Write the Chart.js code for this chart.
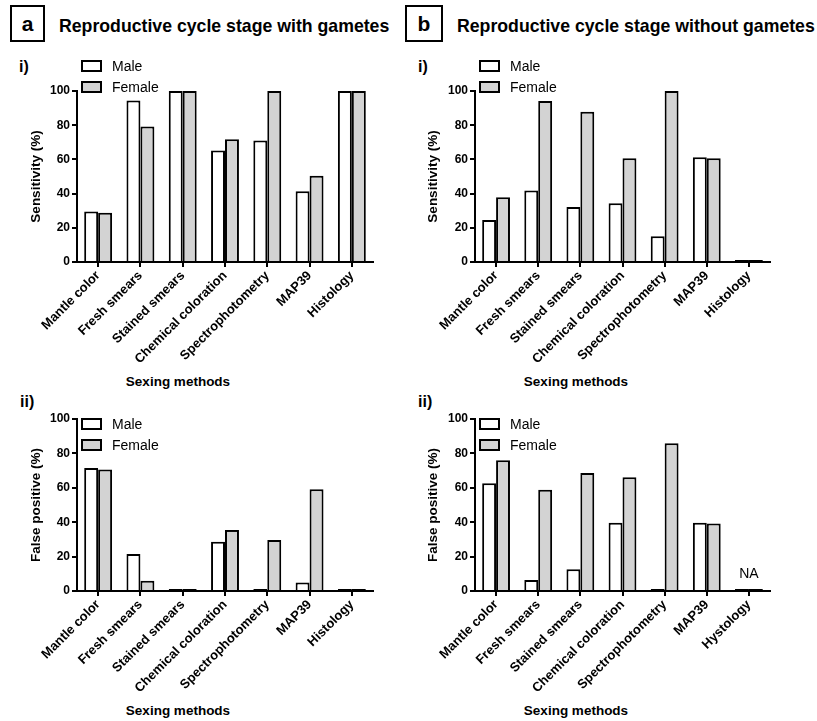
<!DOCTYPE html>
<html>
<head>
<meta charset="utf-8">
<script src="https://cdn.jsdelivr.net/npm/chart.js@4.4.1/dist/chart.umd.min.js"></script>
<style>
  body { margin: 0; background: #fff; font-family: Arial, "Liberation Sans", sans-serif; }
  #page { position: relative; width: 817px; height: 721px; overflow: hidden; }
  canvas { position: absolute; }
  .txt { position: absolute; color: #000; white-space: nowrap; line-height: 1; }
  .letterbox { position: absolute; border: 2px solid #000; box-sizing: border-box;
    font-weight: bold; font-size: 21px; display: flex; align-items: center; justify-content: center; }
  .title { font-weight: bold; font-size: 17.7px; }
  .sub { font-weight: bold; font-size: 16px; }
  .xt { font-weight: bold; font-size: 13.5px; transform: translateX(-50%); }
  .lbox { position: absolute; width: 21px; height: 12px; border: 2px solid #000; box-sizing: border-box; }
  .ltxt { font-size: 14px; }
</style>
</head>
<body>
<div id="page">
  <div class="letterbox" style="left:10px;top:5px;width:35px;height:37px;">a</div>
  <div class="txt title" style="left:59px;top:18px;">Reproductive cycle stage with gametes</div>
  <div class="letterbox" style="left:405px;top:5px;width:38px;height:37px;">b</div>
  <div class="txt title" style="left:457px;top:18px;">Reproductive cycle stage without gametes</div>

  <div class="txt sub" style="left:19px;top:59px;">i)</div>
  <div class="txt sub" style="left:418px;top:59px;">i)</div>
  <div class="txt sub" style="left:20px;top:394px;">ii)</div>
  <div class="txt sub" style="left:418px;top:394px;">ii)</div>

  <div class="txt xt" style="left:178px;top:375px;">Sexing methods</div>
  <div class="txt xt" style="left:576px;top:375px;">Sexing methods</div>
  <div class="txt xt" style="left:178px;top:704px;">Sexing methods</div>
  <div class="txt xt" style="left:576px;top:704px;">Sexing methods</div>

  <canvas id="ai" width="408" height="330" style="left:0;top:60px;"></canvas>
  <canvas id="bi" width="409" height="330" style="left:408px;top:60px;"></canvas>
  <canvas id="aii" width="408" height="330" style="left:0;top:390px;"></canvas>
  <canvas id="bii" width="409" height="330" style="left:408px;top:390px;"></canvas>
</div>

<script>
const seriesNames = ['Male', 'Female'];
const categoriesA = ['Mantle color', 'Fresh smears', 'Stained smears', 'Chemical coloration', 'Spectrophotometry', 'MAP39', 'Histology'];
const categoriesBii = ['Mantle color', 'Fresh smears', 'Stained smears', 'Chemical coloration', 'Spectrophotometry', 'MAP39', 'Hystology'];
const yTicks = [0, 20, 40, 60, 80, 100];

// sensitivity (%)
const sensMaleA   = [29.6, 94.4, 100, 65.2, 71.0, 41.4, 100];
const sensFemaleA = [28.8, 79.2, 100, 71.8, 100, 50.4, 100];
const sensMaleB   = [24.5, 41.8, 32.1, 34.4, 15.0, 61.3, 0];
const sensFemaleB = [37.9, 94.2, 87.9, 60.7, 100, 60.7, 0];

// false positive (%)
const fpMaleA   = [71.5, 21.5, 0, 28.7, 0, 5.0, 0];
const fpFemaleA = [70.7, 6.0, 0, 35.5, 29.7, 59.1, 0];
const fpMaleB   = [62.6, 6.4, 12.6, 39.7, 0, 39.7, 0];
const fpFemaleB = [76.0, 58.9, 68.6, 66.1, 85.9, 39.3, 0];

// text over a bar group (only Hystology in b-ii)
const naLabelsBii = ['', '', '', '', '', '', 'NA'];

const FONT = 'Arial, "Liberation Sans", sans-serif';
Chart.defaults.font.family = FONT;
Chart.defaults.color = '#000';

const naPlugin = {
  id: 'naText',
  afterDatasetsDraw(chart, args, opts) {
    if (!opts.labels) return;
    const ctx = chart.ctx;
    const x = chart.scales.x, y = chart.scales.y;
    ctx.save();
    ctx.font = '14px ' + FONT;
    ctx.fillStyle = '#000';
    ctx.textAlign = 'center';
    ctx.textBaseline = 'bottom';
    opts.labels.forEach((t, i) => {
      if (t) ctx.fillText(t, x.getPixelForValue(i), y.getPixelForValue(0) - 10);
    });
    ctx.restore();
  }
};

function addLegend(left, top) {
  const page = document.getElementById('page');
  const fills = ['#ffffff', '#d3d3d3'];
  seriesNames.forEach((name, i) => {
    const b = document.createElement('div');
    b.className = 'lbox';
    b.style.left = left + 'px';
    b.style.top = (top + i * 21) + 'px';
    b.style.background = fills[i];
    page.appendChild(b);
    const t = document.createElement('div');
    t.className = 'txt ltxt';
    t.style.left = (left + 31) + 'px';
    t.style.top = (top + i * 21 - 1) + 'px';
    t.textContent = name;
    page.appendChild(t);
  });
}

function makePanel(id, labels, male, female, yTitle, axisW, xH, padTop, padRight, titlePad, na) {
  new Chart(document.getElementById(id), {
    type: 'bar',
    data: {
      labels: labels,
      datasets: [
        { label: seriesNames[0], data: male, backgroundColor: '#ffffff' },
        { label: seriesNames[1], data: female, backgroundColor: '#d3d3d3' }
      ]
    },
    options: {
      responsive: false,
      animation: false,
      events: [],
      layout: { padding: { top: padTop, right: padRight, left: 0, bottom: 0 } },
      datasets: {
        bar: {
          borderColor: '#000',
          borderWidth: 2,
          // zero bars show as a flat black line, the others sit on the axis
          borderSkipped: c => (c.raw === 0 ? false : 'start'),
          categoryPercentage: 0.66,
          barPercentage: 1,
          minBarLength: 2
        }
      },
      plugins: {
        legend: { display: false },
        tooltip: { enabled: false },
        naText: { labels: na }
      },
      scales: {
        x: {
          afterFit: s => { s.height = xH; },
          grid: { display: true, drawOnChartArea: false, offset: false, tickLength: 5, color: '#000', lineWidth: 2 },
          border: { display: true, color: '#000', width: 2 },
          ticks: { autoSkip: false, minRotation: 45, maxRotation: 45, padding: 1,
                   font: { size: 13, weight: 'bold' } }
        },
        y: {
          min: 0, max: 100,
          afterFit: s => { s.width = axisW; },
          afterBuildTicks: s => { s.ticks = yTicks.map(v => ({ value: v })); },
          grid: { display: true, drawOnChartArea: false, tickLength: 5, color: '#000', lineWidth: 2 },
          border: { display: true, color: '#000', width: 2 },
          ticks: { padding: 2, font: { size: 12, weight: 'bold' } },
          title: { display: true, text: yTitle, padding: { top: titlePad, bottom: 0 },
                   font: { size: 13.5, weight: 'bold' } }
        }
      }
    },
    plugins: [naPlugin]
  });
}

makePanel('ai', categoriesA, sensMaleA, sensFemaleA, 'Sensitivity (%)', 77, 128, 31, 35, 28, null);
makePanel('bi', categoriesA, sensMaleB, sensFemaleB, 'Sensitivity (%)', 67, 128, 31, 47, 17, null);
makePanel('aii', categoriesA, fpMaleA, fpFemaleA, 'False positive (%)', 77, 129, 29, 35, 28, null);
makePanel('bii', categoriesBii, fpMaleB, fpFemaleB, 'False positive (%)', 67, 129, 29, 47, 17, naLabelsBii);

addLegend(81, 60);
addLegend(479, 60);
addLegend(81, 418);
addLegend(479, 418);
</script>
</body>
</html>
